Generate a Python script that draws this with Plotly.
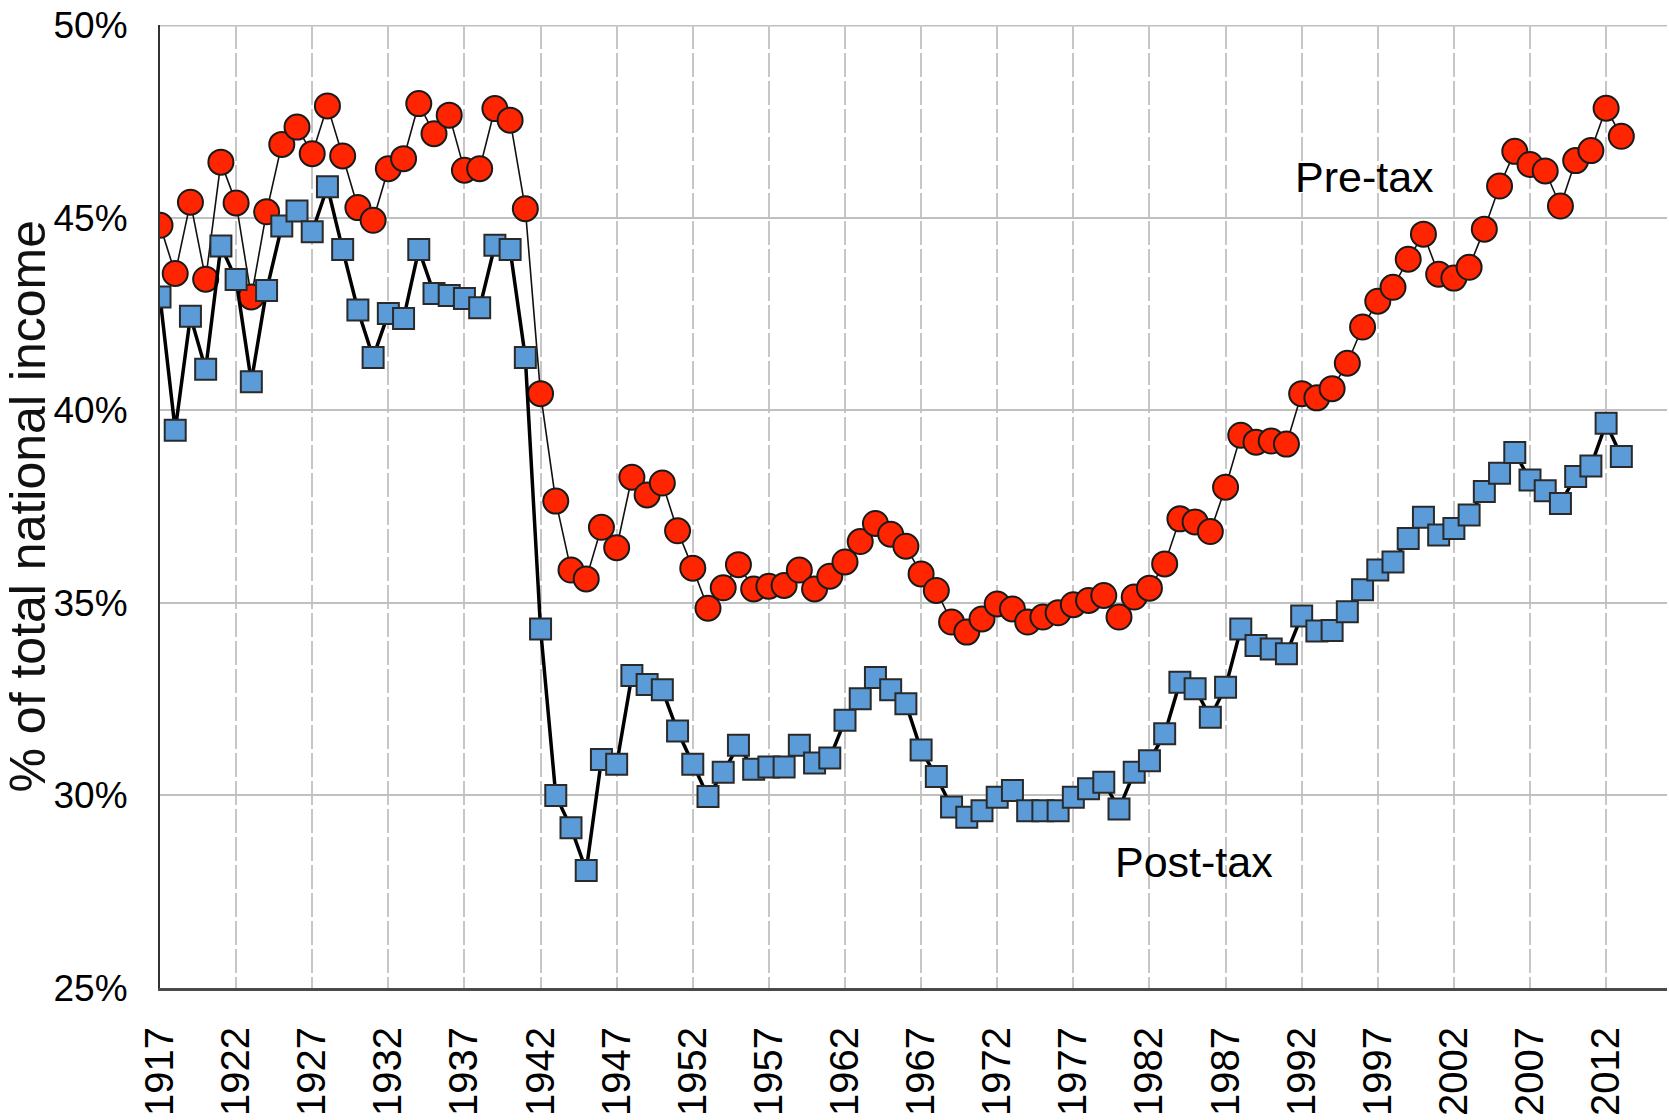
import plotly.graph_objects as go

years = list(range(1917, 2014))

pre_tax = [
    44.80, 43.55, 45.40, 43.40, 46.44, 45.38, 42.94, 45.15, 46.90, 47.35,
    46.66, 47.90, 46.60, 45.26, 44.93, 46.27, 46.53, 47.96, 47.18, 47.66,
    46.23, 46.27, 47.83, 47.53, 45.23, 40.43, 37.64, 35.85, 35.62, 36.96,
    36.43, 38.26, 37.80, 38.11, 36.87, 35.90, 34.86, 35.39, 35.99, 35.36,
    35.43, 35.45, 35.85, 35.36, 35.69, 36.06, 36.59, 37.06, 36.78, 36.47,
    35.75, 35.32, 34.50, 34.24, 34.58, 34.97, 34.84, 34.50, 34.63, 34.74,
    34.95, 35.06, 35.19, 34.63, 35.15, 35.38, 36.01, 37.18, 37.10, 36.85,
    38.00, 39.35, 39.17, 39.20, 39.12, 40.43, 40.32, 40.56, 41.22, 42.16,
    42.83, 43.19, 43.92, 44.57, 43.53, 43.43, 43.71, 44.70, 45.82, 46.72,
    46.38, 46.21, 45.30, 46.48, 46.74, 47.84, 47.11,
]

post_tax = [
    42.94, 39.48, 42.44, 41.06, 44.26, 43.39, 40.74, 43.11, 44.78, 45.17,
    44.63, 45.80, 44.17, 42.60, 41.37, 42.51, 42.38, 44.17, 43.03, 42.98,
    42.90, 42.66, 44.28, 44.17, 41.37, 34.32, 30.00, 29.16, 28.05, 30.93,
    30.81, 33.11, 32.88, 32.74, 31.67, 30.81, 29.97, 30.60, 31.30, 30.68,
    30.74, 30.74, 31.30, 30.84, 30.97, 31.95, 32.51, 33.06, 32.74, 32.38,
    31.18, 30.49, 29.70, 29.43, 29.60, 29.95, 30.13, 29.60, 29.60, 29.60,
    29.95, 30.17, 30.34, 29.65, 30.60, 30.90, 31.60, 32.94, 32.77, 32.03,
    32.81, 34.32, 33.89, 33.80, 33.68, 34.66, 34.27, 34.28, 34.77, 35.34,
    35.85, 36.06, 36.67, 37.22, 36.76, 36.93, 37.28, 37.89, 38.36, 38.90,
    38.19, 37.91, 37.58, 38.28, 38.55, 39.66, 38.80,
]

x_tick_years = [1917, 1922, 1927, 1932, 1937, 1942, 1947, 1952, 1957, 1962,
                1967, 1972, 1977, 1982, 1987, 1992, 1997, 2002, 2007, 2012]
y_tick_values = [25, 30, 35, 40, 45, 50]
y_tick_labels = ["25%", "30%", "35%", "40%", "45%", "50%"]

series_labels = ["Pre-tax", "Post-tax"]
label_positions = [(1996.1, 46.05), (1984.9, 28.27)]

FONT = "Liberation Sans, Arial, sans-serif"

fig = go.Figure()

fig.add_trace(go.Scatter(
    x=years, y=pre_tax, mode="lines+markers", name="Pre-tax",
    line=dict(color="#111111", width=1.6),
    marker=dict(symbol="circle", size=25, color="#ff2500",
                line=dict(color="#1a1a1a", width=2)),
))

fig.add_trace(go.Scatter(
    x=years, y=post_tax, mode="lines+markers", name="Post-tax",
    line=dict(color="#000000", width=3.5),
    marker=dict(symbol="square", size=21, color="#5b9bd8",
                line=dict(color="#2a2a2a", width=2)),
))

for text, (lx, ly) in zip(series_labels, label_positions):
    fig.add_annotation(x=lx, y=ly, xref="x", yref="y", text=text,
                       showarrow=False, font=dict(family=FONT, size=43, color="black"),
                       xanchor="center", yanchor="middle")

fig.add_annotation(
    x=(27 - 160) / 1507, y=0.5, xref="paper", yref="paper",
    text="% of total national income", textangle=-90, showarrow=False,
    font=dict(family=FONT, size=50, color="#111111"),
    xanchor="center", yanchor="middle",
)

# light top border line at the 50% level, as in the original
fig.add_shape(type="line", xref="paper", yref="y", x0=0, x1=1, y0=50, y1=50,
              line=dict(color="#c0c0c0", width=3), layer="below")

fig.update_layout(
    width=1669, height=1120,
    margin=dict(l=160, r=2, t=25, b=132),
    plot_bgcolor="white", paper_bgcolor="white",
    showlegend=False,
    font=dict(family=FONT, color="black"),
)

fig.update_xaxes(
    range=[1917, 2016],
    tickmode="array", tickvals=x_tick_years,
    ticktext=[str(v) for v in x_tick_years],
    tickangle=-90, tickfont=dict(family=FONT, size=40, color="black"),
    ticks="", ticklabelstandoff=20,
    showgrid=True, gridcolor="#c6c6c6", gridwidth=1.5, griddash="24px,4px",
    showline=True, linecolor="#4a4a4a", linewidth=3,
    zeroline=False,
)

fig.update_yaxes(
    range=[25, 50],
    tickmode="array", tickvals=y_tick_values, ticktext=y_tick_labels,
    tickfont=dict(family=FONT, size=37, color="black"),
    ticks="", ticklabelstandoff=23,
    showgrid=True, gridcolor="#c0c0c0", gridwidth=2,
    showline=True, linecolor="#333333", linewidth=2,
    zeroline=False,
)

fig.write_html("out.html", config={"displayModeBar": False},
               post_script="document.body.style.margin='0';")
